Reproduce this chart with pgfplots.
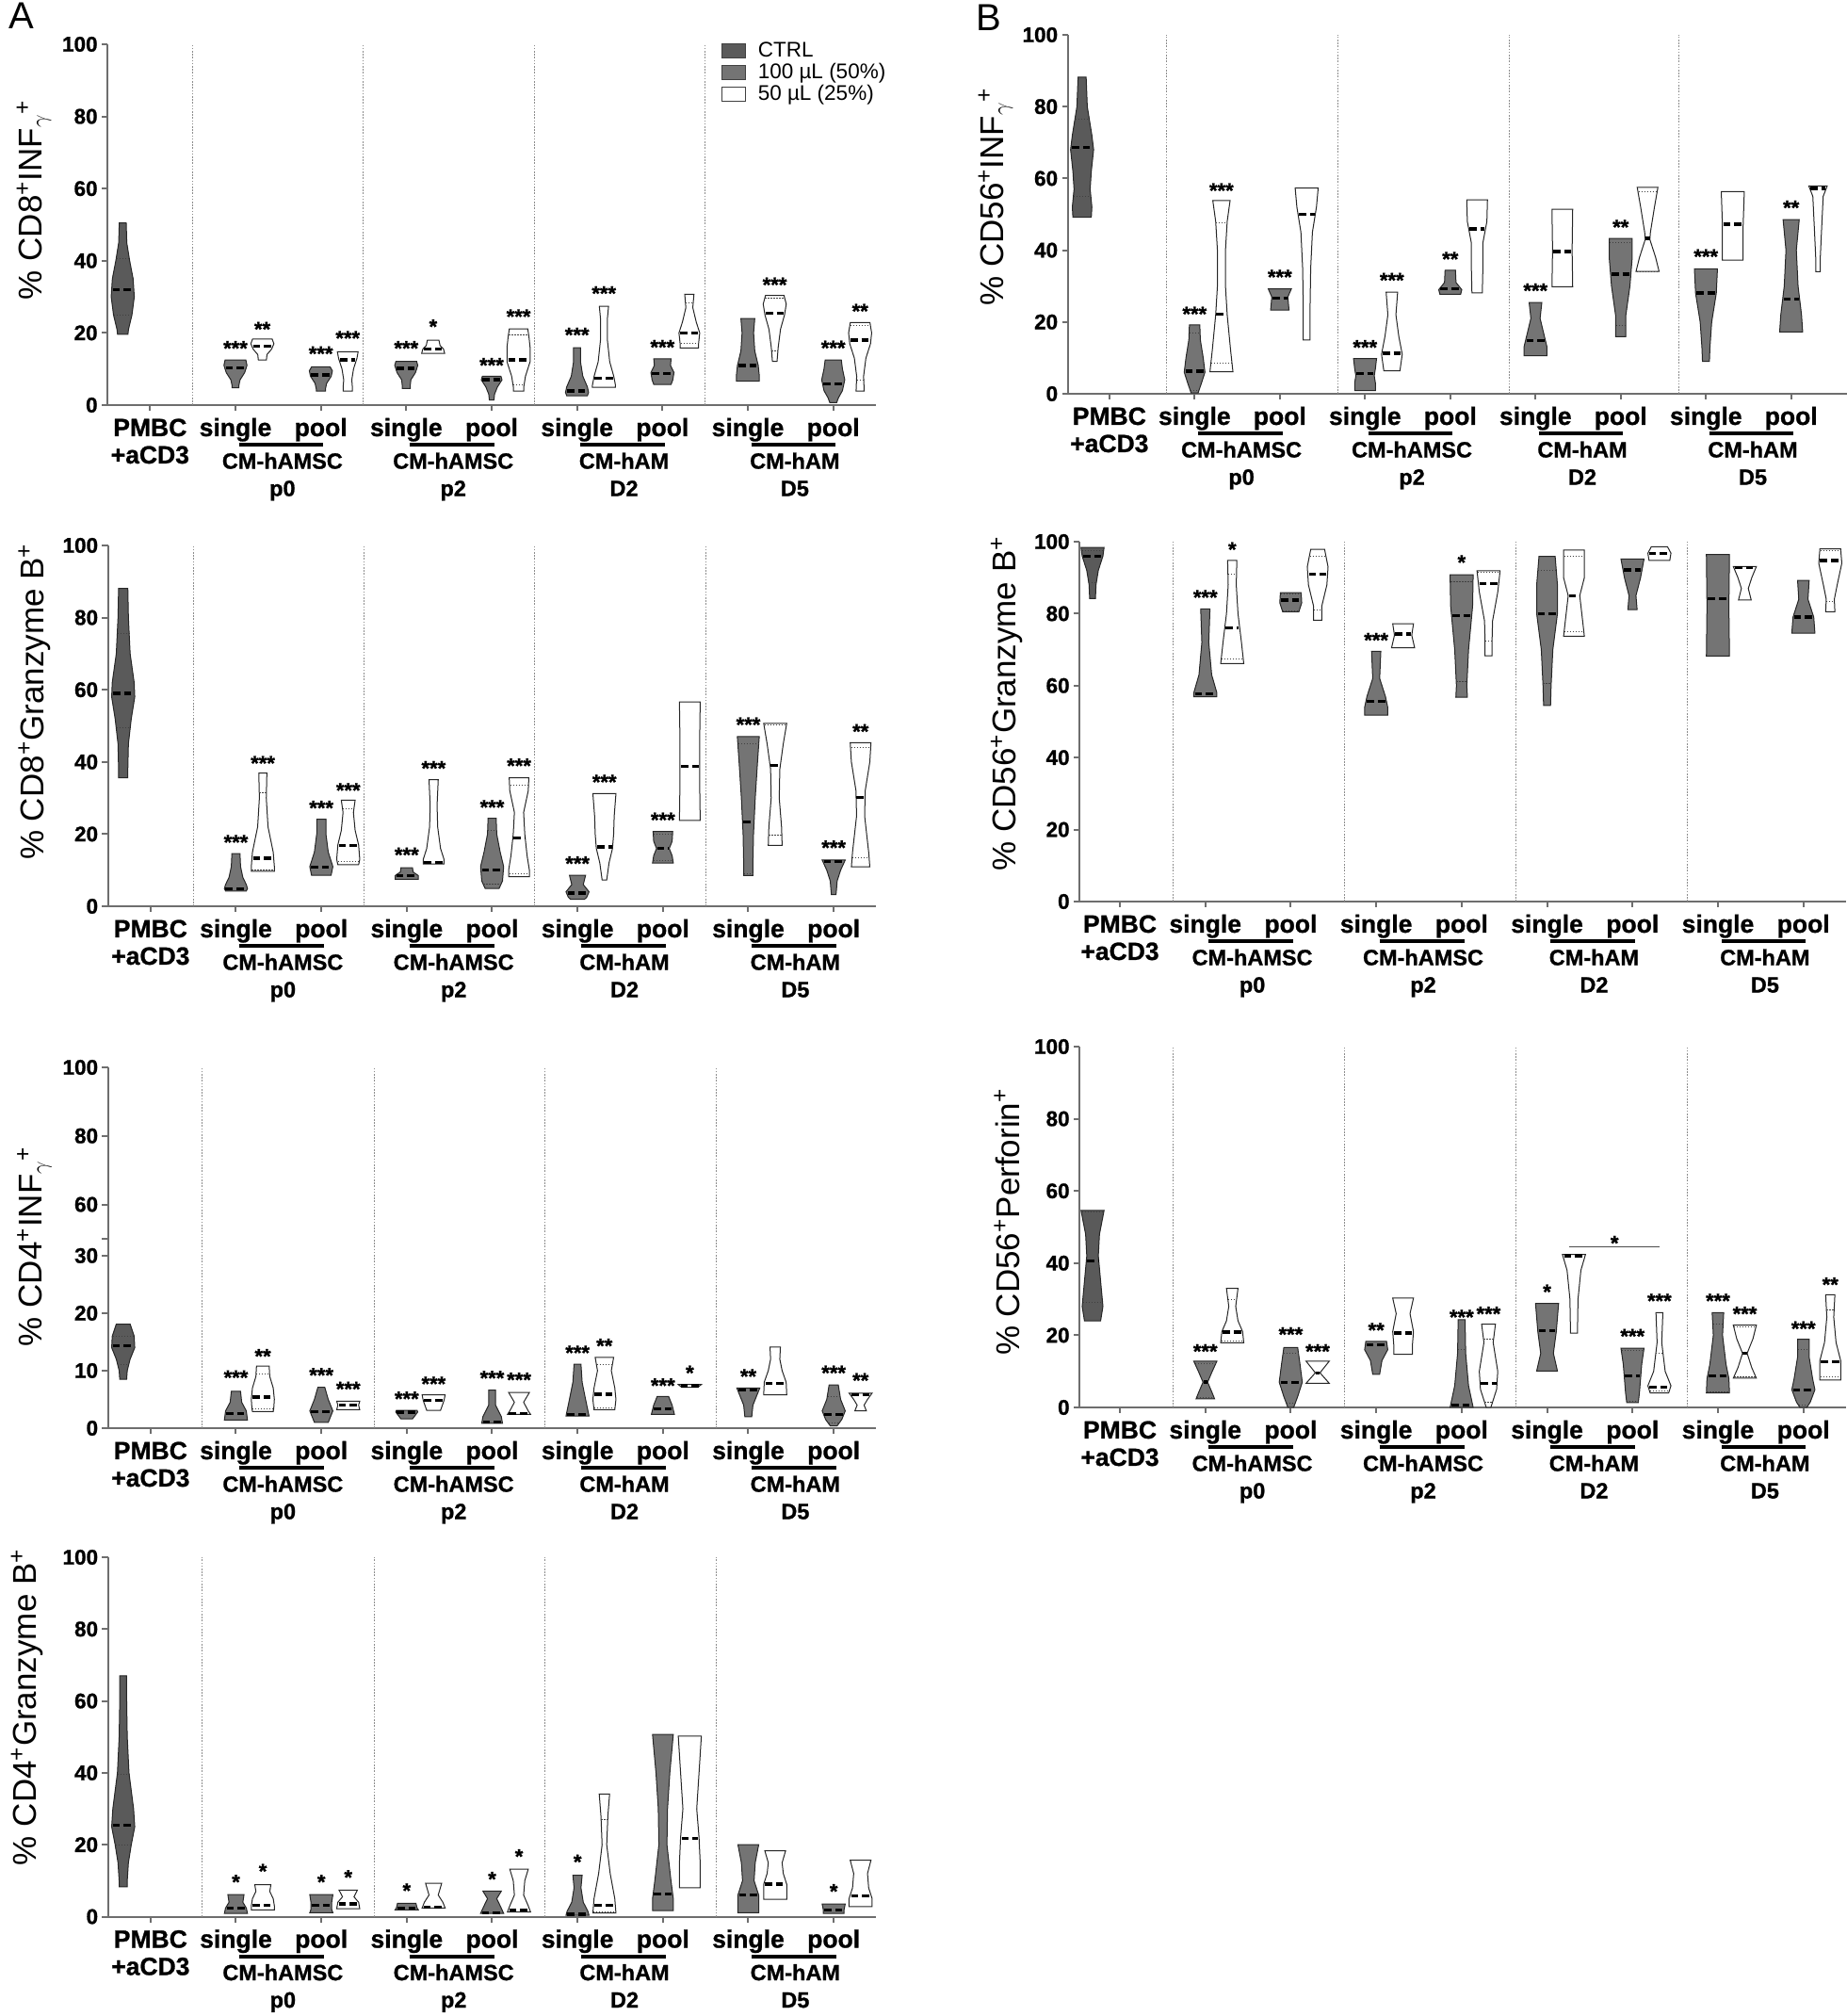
\documentclass[border=0pt]{standalone}
\usepackage{pgfplots}
\pgfplotsset{compat=1.18}
\usepackage{fontspec}
\setmainfont{Liberation Sans}
\newfontfamily\hb[FakeBold=1.0]{Liberation Sans Bold}
\definecolor{ctrl}{HTML}{5A5A5A}
\definecolor{hund}{HTML}{747474}
\definecolor{axgray}{HTML}{6E6E6E}
\newcommand\tickfont{\fontsize{11.25}{12}\selectfont\hb}
\newcommand\xlabfont{\fontsize{13.25}{14}\selectfont\hb}
\newcommand\grpfont{\fontsize{11.75}{13}\selectfont\hb}
\newcommand\ylabfont{\fontsize{17.5}{20}\selectfont}
\newcommand\starfont{\fontsize{11}{12}\selectfont\hb}
\newcommand\legfont{\fontsize{11.25}{12}\selectfont}
\newcommand\gam{\textsubscript{$\gamma$}}
\newcommand\vmax{0.135}
\tikzset{
  vstyle/.style={draw=black!85, line width=0.5pt},
  medstyle/.style={black, line width=1.7pt, dash pattern=on 3.8pt off 2pt},
  qstyle/.style={black!75, line width=0.5pt, dash pattern=on 0.6pt off 0.9pt},
  sepstyle/.style={draw=black!45, line width=0.5pt, dash pattern=on 0.8pt off 0.8pt},
  starnode/.style={font=\starfont, inner sep=0pt, anchor=center, yshift=-2.4pt},
  xl/.style={font=\xlabfont, anchor=base, inner sep=0pt},
  gl/.style={font=\grpfont, anchor=base, inner sep=0pt},
  grpbar/.style={line width=2pt, black},
}
% width of a violin (fraction) at height #2, list #1 given top to bottom
\newcommand\vwidth[2]{%
  \gdef\vwres{0.8}\gdef\vpy{1000}\gdef\vpw{0}\gdef\vfound{0}%
  \foreach \yy/\ww in {#1}{%
    \pgfmathparse{(\vfound<0.5)&&(\vpy<999)&&(\vpy>=#2)&&(\yy<=#2)?1:0}%
    \ifdim\pgfmathresult pt>0.5pt
      \pgfmathsetmacro\tmpw{\vpw+(\ww-\vpw)*(#2-\vpy)/(\yy-\vpy)}%
      \xdef\vwres{\tmpw}\gdef\vfound{1}%
    \fi
    \xdef\vpy{\yy}\xdef\vpw{\ww}%
  }%
}
% violin: #1 x, #2 fill, #3 median, #4 list y/w from top to bottom
\newcommand\vio[4]{%
  \gdef\vR{}\gdef\vL{}%
  \foreach \yy/\ww in {#4}{%
    \pgfmathsetmacro\xr{#1+\ww*\vmax}%
    \pgfmathsetmacro\xl{#1-\ww*\vmax}%
    \xdef\vR{\vR(\xr,\yy)}%
    \xdef\vL{(\xl,\yy)\vL}%
  }%
  \vwidth{#4}{#3}%
  \pgfmathsetmacro\mxl{#1-0.9*\vwres*\vmax}%
  \pgfmathsetmacro\mxr{#1+0.9*\vwres*\vmax}%
  \edef\tmp{\noexpand\addplot[vstyle,fill=#2] coordinates {\vR\vL} -- cycle;%
    \noexpand\addplot[medstyle] coordinates {(\mxl,#3) (\mxr,#3)};}%
  \tmp
}
% quartile dotted lines: #1 x, #2 list, #3 q3, #4 q1
\newcommand\vq[4]{%
  \vwidth{#2}{#3}%
  \pgfmathsetmacro\qa{#1-0.95*\vwres*\vmax}\pgfmathsetmacro\qb{#1+0.95*\vwres*\vmax}%
  \edef\tmp{\noexpand\addplot[qstyle] coordinates {(\qa,#3) (\qb,#3)};}\tmp
  \vwidth{#2}{#4}%
  \pgfmathsetmacro\qa{#1-0.95*\vwres*\vmax}\pgfmathsetmacro\qb{#1+0.95*\vwres*\vmax}%
  \edef\tmp{\noexpand\addplot[qstyle] coordinates {(\qa,#4) (\qb,#4)};}\tmp
}
\newcommand\st[3]{\node[starnode] at (axis cs:#1,#2) {#3};}
\newcommand\seps[5]{%
  \addplot[sepstyle] coordinates {(#1,0) (#1,#5)};
  \addplot[sepstyle] coordinates {(#2,0) (#2,#5)};
  \addplot[sepstyle] coordinates {(#3,0) (#3,#5)};
  \addplot[sepstyle] coordinates {(#4,0) (#4,#5)};
}
\newcommand\xlabels{%
  \node[xl] at ([yshift=-16.5pt]axis cs:0,0) {PMBC};
  \node[xl] at ([yshift=-31pt]axis cs:0,0) {+aCD3};
  \node[xl] at ([yshift=-16.5pt]axis cs:1,0) {single};
  \node[xl] at ([yshift=-16.5pt]axis cs:2,0) {pool};
  \node[xl] at ([yshift=-16.5pt]axis cs:3,0) {single};
  \node[xl] at ([yshift=-16.5pt]axis cs:4,0) {pool};
  \node[xl] at ([yshift=-16.5pt]axis cs:5,0) {single};
  \node[xl] at ([yshift=-16.5pt]axis cs:6,0) {pool};
  \node[xl] at ([yshift=-16.5pt]axis cs:7,0) {single};
  \node[xl] at ([yshift=-16.5pt]axis cs:8,0) {pool};
  \draw[grpbar] ([yshift=-21pt]axis cs:1.04,0) -- ([yshift=-21pt]axis cs:2.03,0);
  \draw[grpbar] ([yshift=-21pt]axis cs:3.04,0) -- ([yshift=-21pt]axis cs:4.03,0);
  \draw[grpbar] ([yshift=-21pt]axis cs:5.04,0) -- ([yshift=-21pt]axis cs:6.03,0);
  \draw[grpbar] ([yshift=-21pt]axis cs:7.04,0) -- ([yshift=-21pt]axis cs:8.03,0);
  \node[gl] at ([yshift=-33.8pt]axis cs:1.55,0) {CM-hAMSC};
  \node[gl] at ([yshift=-48.3pt]axis cs:1.55,0) {p0};
  \node[gl] at ([yshift=-33.8pt]axis cs:3.55,0) {CM-hAMSC};
  \node[gl] at ([yshift=-48.3pt]axis cs:3.55,0) {p2};
  \node[gl] at ([yshift=-33.8pt]axis cs:5.55,0) {CM-hAM};
  \node[gl] at ([yshift=-48.3pt]axis cs:5.55,0) {D2};
  \node[gl] at ([yshift=-33.8pt]axis cs:7.55,0) {CM-hAM};
  \node[gl] at ([yshift=-48.3pt]axis cs:7.55,0) {D5};
}
\pgfplotsset{
  vplot/.style={scale only axis, enlargelimits=false, clip=false,
    anchor=south west,
    axis x line=bottom, axis y line=left,
    axis line style={-, draw=axgray, line width=1pt},
    xtick={0,1,2,3,4,5,6,7,8}, xticklabels={},
    tick align=outside, major tick length=3pt,
    tick style={draw=axgray, line width=1pt},
    ymin=0, ymax=100, ytick={0,20,40,60,80,100},
    yticklabel style={font=\tickfont, inner sep=0pt, xshift=-2pt},
    /pgf/number format/assume math mode=true,
    ylabel style={font=\ylabfont, anchor=center},
  },
}
\begin{document}
\begin{tikzpicture}
\useasboundingbox (0,0) rectangle (980pt,1070pt);
\node[anchor=north west, inner sep=0pt, font=\fontsize{20}{24}\selectfont] at (4.5pt,1068.5pt) {A};
\node[anchor=north west, inner sep=0pt, font=\fontsize{20}{24}\selectfont] at (518pt,1067.5pt) {B};

% ---------------- A1 ----------------
\begin{axis}[vplot, at={(57pt,855pt)}, width=408pt, height=191.5pt,
  xmin=-0.5, xmax=8.5,
  ylabel={\% CD8\textsuperscript{+}INF\gam\textsuperscript{+}},
  ylabel style={at={(axis description cs:-0.0956,0.569)}},
  legend style={draw=none, fill=none, at={(axis description cs:0.798,1.01)}, anchor=north west,
    inner sep=0pt, row sep=0.6pt, font=\legfont, cells={anchor=west}, nodes={inner sep=0.6pt},
    /tikz/every odd column/.append style={column sep=6pt}},
  legend image code/.code={\draw[#1,draw=black!75,line width=0.5pt] (0pt,-3.8pt) rectangle (12.5pt,3.8pt);},
]
\addlegendimage{fill=ctrl}\addlegendentry{CTRL}
\addlegendimage{fill=hund}\addlegendentry{100 µL (50\%)}
\addlegendimage{fill=white}\addlegendentry{50 µL (25\%)}
\seps{0.5}{2.5}{4.5}{6.5}{100}
\vio{-0.32}{ctrl}{32}{50.5/0.3, 45/0.35, 40/0.6, 35/0.9, 30/1.0, 25/0.8, 21/0.5, 19.6/0.45}
\vq{-0.32}{50.5/0.3, 45/0.35, 40/0.6, 35/0.9, 30/1.0, 25/0.8, 21/0.5, 19.6/0.45}{40.5}{25}
\vio{1}{hund}{10.3}{12.5/0.9, 11/1.0, 9/0.8, 7/0.4, 5.5/0.3, 4.8/0.3}
\vio{1.315}{white}{16.3}{18.3/0.85, 17/1.0, 15.5/0.8, 14/0.4, 12.5/0.35}
\vio{2}{hund}{8.4}{10.6/0.8, 9.5/1.0, 8/0.9, 6/0.5, 4.5/0.4, 3.9/0.4}
\vio{2.315}{white}{12.5}{14.8/0.9, 13/0.8, 10/0.5, 7/0.35, 5/0.4, 3.9/0.4}
\vio{3}{hund}{10.2}{12.1/0.9, 11/1.0, 9/0.8, 7/0.4, 5.5/0.35, 4.6/0.35}
\vio{3.315}{white}{15.6}{18/0.5, 16.5/0.6, 15.5/0.9, 14.3/1.0}
\vio{4}{hund}{7.0}{8/0.8, 7/0.9, 5/0.5, 3/0.25, 1.4/0.2}
\vio{4.315}{white}{12.5}{21.1/0.8, 19/0.9, 16/1.0, 12/1.0, 8/0.6, 5/0.45, 3.9/0.45}
\vq{4.315}{21.1/0.8, 19/0.9, 16/1.0, 12/1.0, 8/0.6, 5/0.45, 3.9/0.45}{19.5}{5.5}
\vio{5}{hund}{3.9}{15.9/0.3, 12/0.3, 8/0.5, 5/0.9, 3.5/1.0, 2.6/0.9}
\vio{5.315}{white}{7.4}{27.4/0.4, 24/0.3, 18/0.3, 12/0.5, 8/0.85, 5.5/1.0, 4.9/1.0}
\vio{6}{hund}{8.8}{12.8/0.75, 11/0.7, 9/1.0, 7/0.9, 5.7/0.75}
\vio{6.315}{white}{19.9}{30.7/0.4, 27/0.3, 23/0.6, 20/0.9, 17/0.8, 15.8/0.8}
\vq{6.315}{30.7/0.4, 27/0.3, 23/0.6, 20/0.9, 17/0.8, 15.8/0.8}{28.4}{17}
\vio{7}{hund}{11}{24/0.6, 20/0.5, 15/0.6, 11/0.9, 8/1.0, 6.6/1.0}
\vio{7.315}{white}{25.5}{30.4/0.8, 28/1.0, 25/0.85, 21/0.5, 16/0.3, 12.1/0.2}
\vq{7.315}{30.4/0.8, 28/1.0, 25/0.85, 21/0.5, 16/0.3, 12.1/0.2}{29.5}{15}
\vio{8}{hund}{5.9}{12.5/0.7, 10/0.8, 7/1.0, 4/0.8, 2/0.45, 0.7/0.3}
\vio{8.315}{white}{18}{22.9/0.85, 20/1.0, 17/0.9, 13/0.5, 8/0.3, 3.9/0.35}
\vq{8.315}{22.9/0.85, 20/1.0, 17/0.9, 13/0.5, 8/0.3, 3.9/0.35}{22}{7}
\st{1}{17}{***}\st{1.315}{22.3}{**}\st{2}{15.5}{***}\st{2.315}{19.8}{***}
\st{3}{17}{***}\st{3.315}{23}{*}\st{4}{12.3}{***}\st{4.315}{25.8}{***}
\st{5}{20.7}{***}\st{5.315}{32.2}{***}\st{6}{17.3}{***}\st{7.315}{34.6}{***}
\st{8}{17.1}{***}\st{8.315}{27.3}{**}
\xlabels
\end{axis}

% ---------------- A2 ----------------
\begin{axis}[vplot, at={(57.25pt,589pt)}, width=408pt, height=191.5pt,
  xmin=-0.5, xmax=8.5,
  ylabel={\% CD8\textsuperscript{+}Granzyme B\textsuperscript{+}},
  ylabel style={at={(axis description cs:-0.0956,0.567)}},
]
\seps{0.5}{2.5}{4.5}{6.5}{100}
\vio{-0.32}{ctrl}{59}{88.1/0.4, 80/0.45, 70/0.6, 62/0.95, 58/1.0, 52/0.7, 45/0.45, 38/0.4, 35.6/0.4}
\vq{-0.32}{88.1/0.4, 80/0.45, 70/0.6, 62/0.95, 58/1.0, 52/0.7, 45/0.45, 38/0.4, 35.6/0.4}{75.5}{49.5}
\vio{1}{hund}{4.9}{14.6/0.35, 11/0.4, 8/0.6, 6/0.9, 4.9/1.0, 4.2/0.9}
\vio{1.315}{white}{13.3}{36.9/0.35, 30/0.3, 22/0.45, 15/0.9, 11/1.0, 9.7/1.0}
\vq{1.315}{36.9/0.35, 30/0.3, 22/0.45, 15/0.9, 11/1.0, 9.7/1.0}{31.5}{10}
\vio{2}{hund}{10.9}{24.1/0.4, 20/0.4, 15/0.6, 11/1.0, 8.6/0.85}
\vio{2.315}{white}{16.8}{29.4/0.6, 26/0.45, 21/0.6, 17/0.9, 13/1.0, 11.5/0.9}
\vq{2.315}{29.4/0.6, 26/0.45, 21/0.6, 17/0.9, 13/1.0, 11.5/0.9}{27}{12.3}
\vio{3}{hund}{8.5}{10.7/0.5, 9.5/0.55, 8.5/1.0, 7.5/1.0}
\vio{3.315}{white}{12.2}{35.1/0.4, 28/0.3, 22/0.35, 16/0.6, 13/0.9, 11.7/0.9}
\vio{4}{hund}{10.1}{24.4/0.35, 20/0.4, 15/0.7, 11/1.0, 7/0.9, 4.9/0.6}
\vq{4}{24.4/0.35, 20/0.4, 15/0.7, 11/1.0, 7/0.9, 4.9/0.6}{21}{6.2}
\vio{4.315}{white}{19}{35.6/0.85, 32/0.8, 26/0.4, 20/0.5, 14/0.7, 10/0.9, 8.2/0.9}
\vq{4.315}{35.6/0.85, 32/0.8, 26/0.4, 20/0.5, 14/0.7, 10/0.9, 8.2/0.9}{33.5}{9}
\vio{5}{hund}{3.6}{8.6/0.7, 6/0.5, 4/1.0, 2.5/0.8, 1.9/0.6}
\vio{5.315}{white}{16.4}{31.2/1.0, 25/0.85, 20/0.8, 16/0.7, 12/0.4, 7.3/0.2}
\vio{6}{hund}{16}{20.7/0.85, 18/0.8, 16/0.55, 14/0.8, 12/0.9}
\vq{6}{20.7/0.85, 18/0.8, 16/0.55, 14/0.8, 12/0.9}{20}{12.6}
\vio{6.315}{white}{38.7}{56.6/0.9, 45/0.85, 35/0.85, 23.8/0.9}
\vio{7}{hund}{23.4}{47/0.95, 40/0.8, 30/0.6, 20/0.45, 12/0.4, 8.5/0.4}
\vq{7}{47/0.95, 40/0.8, 30/0.6, 20/0.45, 12/0.4, 8.5/0.4}{45}{9}
\vio{7.315}{white}{39}{50.7/1.0, 45/0.7, 38/0.4, 30/0.35, 22/0.55, 16.9/0.6}
\vq{7.315}{50.7/1.0, 45/0.7, 38/0.4, 30/0.35, 22/0.55, 16.9/0.6}{50.3}{19.7}
\vio{8}{hund}{12.4}{12.8/1.0, 10/0.6, 7/0.3, 5/0.25, 3.2/0.2}
\vio{8.315}{white}{30.2}{45.3/0.9, 40/0.8, 32/0.4, 25/0.35, 15/0.7, 10.9/0.8}
\vq{8.315}{45.3/0.9, 40/0.8, 32/0.4, 25/0.35, 15/0.7, 10.9/0.8}{44}{13.5}
\st{1}{19}{***}\st{1.315}{40.9}{***}\st{2}{28.5}{***}\st{2.315}{33.4}{***}
\st{3}{15.5}{***}\st{3.315}{39.5}{***}\st{4}{28.7}{***}\st{4.315}{40.2}{***}
\st{5}{13.1}{***}\st{5.315}{35.7}{***}\st{6}{25.2}{***}\st{7}{51.6}{***}
\st{8}{17.5}{***}\st{8.315}{49.7}{**}
\xlabels
\end{axis}

% ---------------- A3 (broken axis: 0-30, then 50-100) ----------------
\begin{axis}[vplot, at={(57.25pt,312pt)}, width=408pt, height=191.5pt,
  xmin=-0.5, xmax=8.5, ymax=62.75,
  ytick={0,10,20,30,32.95,38.91,50.83,62.75},
  yticklabels={0,10,20,30,,60,80,100},
  ylabel={\% CD4\textsuperscript{+}INF\gam\textsuperscript{+}},
  ylabel style={at={(axis description cs:-0.0956,0.504)}},
]
\seps{0.6}{2.62}{4.62}{6.62}{62.75}
\vio{-0.32}{ctrl}{14.3}{18.1/0.6, 16/0.95, 14/1.0, 12/0.6, 10/0.35, 8.5/0.3}
\vq{-0.32}{18.1/0.6, 16/0.95, 14/1.0, 12/0.6, 10/0.35, 8.5/0.3}{16}{11}
\vio{1}{hund}{2.5}{6.4/0.4, 4.5/0.5, 3/0.9, 1.4/1.0}
\vio{1.315}{white}{5.4}{10.8/0.55, 9/0.6, 7/0.9, 5/1.0, 3.5/0.95, 2.9/0.9}
\vq{1.315}{10.8/0.55, 9/0.6, 7/0.9, 5/1.0, 3.5/0.95, 2.9/0.9}{9.5}{3.4}
\vio{2}{hund}{2.9}{7.1/0.3, 5/0.6, 3/1.0, 1.0/0.6}
\vio{2.315}{white}{4.0}{4.7/1.0, 4/0.9, 3.2/1.0}
\vio{3}{hund}{2.8}{3.1/0.9, 2.8/0.95, 1.6/0.5}
\vio{3.315}{white}{4.8}{5.8/1.0, 4.8/0.9, 3.1/0.6}
\vio{4}{hund}{1.1}{6.6/0.3, 4/0.3, 2/0.8, 0.85/0.9}
\vio{4.315}{white}{2.5}{6.2/0.9, 4.5/0.4, 3/0.8, 2.4/1.0}
\vio{5}{hund}{2.4}{11.1/0.3, 8/0.4, 5/0.7, 2.1/1.0}
\vio{5.315}{white}{5.9}{12.3/0.8, 10/0.6, 7/0.9, 5/1.0, 3.2/0.9}
\vq{5.315}{12.3/0.8, 10/0.6, 7/0.9, 5/1.0, 3.2/0.9}{11}{3.6}
\vio{6}{hund}{3.4}{5.5/0.5, 4/0.8, 2.4/1.0}
\vio{6.315}{white}{7.4}{7.6/1.0, 7.1/0.7}
\vio{7}{hund}{6.6}{7/1.0, 6/0.8, 4/0.4, 2/0.3}
\vio{7.315}{white}{7.8}{14.1/0.45, 12/0.4, 10/0.6, 8/0.95, 5.8/1.0}
\vio{8}{hund}{2.4}{7.5/0.4, 5/0.6, 3/1.0, 1.5/0.7, 0.4/0.3}
\vq{8}{7.5/0.4, 5/0.6, 3/1.0, 1.5/0.7, 0.4/0.3}{5.5}{0.9}
\vio{8.315}{white}{5.8}{6.1/1.0, 5/0.6, 4/0.3, 3/0.5}
\st{1}{9.6}{***}\st{1.315}{13.3}{**}\st{2}{10.0}{***}\st{2.315}{7.6}{***}
\st{3}{5.9}{***}\st{3.315}{8.5}{***}\st{4}{9.5}{***}\st{4.315}{9.2}{***}
\st{5}{13.9}{***}\st{5.315}{15.1}{**}\st{6}{8.2}{***}\st{6.315}{10.4}{*}
\st{7}{9.8}{**}\st{8}{10.4}{***}\st{8.315}{9.1}{**}
\xlabels
\end{axis}

% ---------------- A4 ----------------
\begin{axis}[vplot, at={(57.25pt,52.75pt)}, width=408pt, height=190.75pt,
  xmin=-0.5, xmax=8.5,
  ylabel={\% CD4\textsuperscript{+}Granzyme B\textsuperscript{+}},
  ylabel style={at={(axis description cs:-0.105,0.583)}},
]
\seps{0.6}{2.62}{4.62}{6.62}{100}
\vio{-0.32}{ctrl}{25.4}{67/0.3, 60/0.3, 50/0.35, 40/0.5, 30/0.9, 25/1.0, 20/0.7, 15/0.45, 10/0.35, 8.3/0.35}
\vq{-0.32}{67/0.3, 60/0.3, 50/0.35, 40/0.5, 30/0.9, 25/1.0, 20/0.7, 15/0.45, 10/0.35, 8.3/0.35}{39.5}{20}
\vio{1}{hund}{2.4}{6.1/0.7, 4/0.6, 2.4/0.9, 0.9/1.0}
\vio{1.315}{white}{3.2}{8.9/0.7, 7/0.6, 5/0.9, 3/1.0, 1.9/1.0}
\vio{2}{hund}{3.2}{6.1/1.0, 4/0.9, 2/0.9, 1.1/1.0}
\vio{2.315}{white}{3.5}{7.4/0.8, 5.5/0.5, 4/0.9, 2.2/1.0}
\vio{3}{hund}{2.4}{3.7/0.8, 2.4/0.9, 1.9/1.0}
\vio{3.315}{white}{2.6}{9.3/0.7, 6/0.4, 4/0.8, 2.4/1.0}
\vio{4}{hund}{1.1}{7.1/0.8, 5/0.4, 3/0.7, 0.9/1.0}
\vio{4.315}{white}{1.9}{13.2/0.8, 10/0.5, 6/0.4, 3/0.8, 1.3/1.0}
\vio{5}{hund}{0.7}{11.5/0.4, 8/0.3, 4/0.5, 1.5/0.9, 0.35/1.0}
\vio{5.315}{white}{3.2}{34.1/0.45, 28/0.3, 20/0.2, 12/0.5, 5/0.9, 1.0/1.0}
\vq{5.315}{34.1/0.45, 28/0.3, 20/0.2, 12/0.5, 5/0.9, 1.0/1.0}{27}{1.3}
\vio{6}{hund}{6.3}{50.7/0.9, 40/0.6, 30/0.4, 20/0.35, 10/0.7, 5/0.9, 1.7/0.9}
\vio{6.315}{white}{21.7}{50.2/1.0, 40/0.8, 30/0.6, 22/0.8, 15/0.9, 8/0.9}
\vio{7}{hund}{6.1}{20/0.9, 15/0.6, 10/0.5, 6/0.9, 1.1/0.9}
\vio{7.315}{white}{9.0}{18.3/0.9, 15/0.6, 12/0.7, 9/1.0, 4.8/1.0}
\vio{8}{hund}{1.9}{3.5/1.0, 1.9/0.9, 0.9/0.9}
\vio{8.315}{white}{5.8}{15.7/0.9, 12/0.6, 8/0.7, 5/1.0, 2.8/1.0}
\st{1}{10.9}{*}\st{1.315}{13.9}{*}\st{2}{10.9}{*}\st{2.315}{12.2}{*}
\st{3}{8.5}{*}\st{4}{11.7}{*}\st{4.315}{18}{*}\st{5}{16.5}{*}\st{8}{8.3}{*}
\xlabels
\end{axis}

% ---------------- B1 ----------------
\begin{axis}[vplot, at={(566.75pt,861pt)}, width=413.5pt, height=190.5pt,
  xmin=-0.49, xmax=8.65,
  ylabel={\% CD56\textsuperscript{+}INF\gam\textsuperscript{+}},
  ylabel style={at={(axis description cs:-0.0925,0.549)}},
]
\seps{0.67}{2.68}{4.69}{6.68}{100}
\vio{-0.32}{ctrl}{68.6}{88.2/0.35, 80/0.45, 72/0.85, 68/1.0, 62/0.8, 57/0.7, 52/0.85, 49.2/0.8}
\vq{-0.32}{88.2/0.35, 80/0.45, 72/0.85, 68/1.0, 62/0.8, 57/0.7, 52/0.85, 49.2/0.8}{76.5}{55}
\vio{1}{hund}{6.3}{19.2/0.45, 15/0.5, 10/0.75, 6/0.9, 3/0.6, 0.2/0.3}
\vq{1}{19.2/0.45, 15/0.5, 10/0.75, 6/0.9, 3/0.6, 0.2/0.3}{17}{0.8}
\vio{1.315}{white}{22.2}{53.8/0.75, 48/0.5, 40/0.35, 30/0.35, 22/0.5, 12/0.8, 6.1/1.0}
\vq{1.315}{53.8/0.75, 48/0.5, 40/0.35, 30/0.35, 22/0.5, 12/0.8, 6.1/1.0}{47.5}{8.5}
\vio{2}{hund}{26.7}{29.2/1.0, 27/0.7, 25/0.75, 23.3/0.8}
\vio{2.315}{white}{50}{57.3/1.0, 52/0.85, 45/0.5, 35/0.35, 25/0.3, 15/0.3}
\vio{3}{hund}{5.7}{9.8/1.0, 7/0.9, 5/0.8, 3/0.9, 0.9/0.9}
\vio{3.315}{white}{11.3}{28.3/0.5, 22/0.35, 16/0.6, 11/0.9, 6.4/0.7}
\vio{4}{hund}{29.2}{34.4/0.45, 31/0.5, 29/1.0, 27.7/0.9}
\vio{4.315}{white}{45.9}{54/0.9, 48/0.85, 42/0.5, 35/0.5, 28.1/0.45}
\vio{5}{hund}{14.8}{25.4/0.55, 21/0.4, 17/0.7, 13/1.0, 10.6/1.0}
\vio{5.315}{white}{39.6}{51.4/0.9, 40/0.85, 29.8/0.9}
\vio{6}{hund}{33.3}{43.3/1.0, 38/1.0, 30/0.8, 22/0.45, 15.9/0.45}
\vq{6}{43.3/1.0, 38/1.0, 30/0.8, 22/0.45, 15.9/0.45}{42}{19}
\vio{6.315}{white}{43.3}{57.5/0.9, 52/0.6, 45/0.25, 43/0.2, 38/0.7, 34.1/1.0}
\vq{6.315}{57.5/0.9, 52/0.6, 45/0.25, 43/0.2, 38/0.7, 34.1/1.0}{56.3}{34.1}
\vio{7}{hund}{28.1}{34.8/1.0, 28/0.9, 20/0.5, 13/0.35, 9/0.3}
\vio{7.315}{white}{47.2}{56.3/1.0, 47/0.9, 37.2/0.9}
\vio{8}{hund}{26.3}{48.5/0.7, 40/0.45, 30/0.6, 22/0.9, 17.2/1.0}
\vio{8.315}{white}{57.2}{57.9/0.8, 55/0.45, 45/0.3, 38/0.2, 34/0.2}
\st{1}{23.5}{***}\st{1.315}{57.9}{***}\st{2}{33.8}{***}\st{3}{14.2}{***}
\st{3.315}{32.9}{***}\st{4}{38.8}{**}\st{5}{30}{***}\st{6}{47.7}{**}
\st{7}{39.5}{***}\st{8}{53.1}{**}
\xlabels
\end{axis}

% ---------------- B2 ----------------
\begin{axis}[vplot, at={(573pt,591.5pt)}, width=407pt, height=191pt,
  xmin=-0.474, xmax=8.5,
  ylabel={\% CD56\textsuperscript{+}Granzyme B\textsuperscript{+}},
  ylabel style={at={(axis description cs:-0.0946,0.55)}},
]
\seps{0.62}{2.63}{4.64}{6.64}{100}
\vio{-0.32}{ctrl}{95.9}{98.4/1.0, 96/0.9, 92/0.5, 88/0.3, 84.2/0.25}
\vq{-0.32}{98.4/1.0, 96/0.9, 92/0.5, 88/0.3, 84.2/0.25}{97.5}{88.5}
\vio{1}{hund}{57.7}{81.3/0.4, 72/0.3, 63/0.55, 58/1.0, 56.9/1.0}
\vio{1.315}{white}{76.1}{94.8/0.4, 88/0.35, 80/0.5, 72/0.8, 66.1/1.0}
\vq{1.315}{94.8/0.4, 88/0.35, 80/0.5, 72/0.8, 66.1/1.0}{91}{67.5}
\vio{2}{hund}{83.8}{85.8/0.9, 83/0.95, 80.5/0.7}
\vq{2}{85.8/0.9, 83/0.95, 80.5/0.7}{85.5}{80.8}
\vio{2.315}{white}{91}{97.9/0.6, 93/0.9, 88/0.8, 82/0.35, 78.2/0.35}
\vq{2.315}{97.9/0.6, 93/0.9, 88/0.8, 82/0.35, 78.2/0.35}{96}{81}
\vio{3}{hund}{55.7}{69.5/0.4, 62/0.3, 57/0.8, 54/1.0, 51.8/1.0}
\vio{3.315}{white}{74.3}{77.2/0.9, 74/0.75, 70.5/1.0}
\vio{4}{hund}{79.5}{90.8/1.0, 82/0.95, 70/0.6, 60/0.45, 56.8/0.5}
\vq{4}{90.8/1.0, 82/0.95, 70/0.6, 60/0.45, 56.8/0.5}{89}{61}
\vio{4.315}{white}{88.3}{91.9/1.0, 86/0.8, 78/0.35, 72/0.3, 68.3/0.3}
\vq{4.315}{91.9/1.0, 86/0.8, 78/0.35, 72/0.3, 68.3/0.3}{91.5}{72.5}
\vio{5}{hund}{80}{95.9/0.7, 88/0.9, 80/0.9, 70/0.5, 60/0.35, 54.5/0.3}
\vq{5}{95.9/0.7, 88/0.9, 80/0.9, 70/0.5, 60/0.35, 54.5/0.3}{92}{60.5}
\vio{5.315}{white}{85}{97.7/0.9, 90/0.9, 85/0.5, 78/0.75, 73.7/0.9}
\vq{5.315}{97.7/0.9, 90/0.9, 85/0.5, 78/0.75, 73.7/0.9}{96}{75}
\vio{6}{hund}{92.1}{95.2/1.0, 90/0.7, 85/0.3, 81.1/0.4}
\vio{6.315}{white}{96.8}{98.6/0.7, 96.8/1.0, 94.8/0.9}
\vio{7}{hund}{84.1}{96.4/1.0, 82/0.95, 68.2/1.0}
\vio{7.315}{white}{92.8}{93.1/1.0, 90/0.6, 87/0.3, 83.8/0.55}
\vio{8}{hund}{79.1}{89.2/0.5, 84/0.4, 79/0.9, 74.6/1.0}
\vio{8.315}{white}{94.8}{98/0.9, 94/1.0, 88/0.6, 84/0.35, 80.5/0.4}
\vq{8.315}{98/0.9, 94/1.0, 88/0.6, 84/0.35, 80.5/0.4}{97.5}{83.5}
\st{1}{85.8}{***}\st{1.315}{99.1}{*}\st{3}{73.9}{***}\st{4}{95.5}{*}
\xlabels
\end{axis}

% ---------------- B3 ----------------
\begin{axis}[vplot, at={(573pt,323pt)}, width=407pt, height=191.5pt,
  xmin=-0.474, xmax=8.5,
  ylabel={\% CD56\textsuperscript{+}Perforin\textsuperscript{+}},
  ylabel style={at={(axis description cs:-0.0946,0.514)}},
]
\seps{0.62}{2.63}{4.64}{6.64}{100}
\vio{-0.32}{ctrl}{40.6}{54.6/1.0, 48/0.6, 42/0.5, 35/0.7, 28/0.9, 24/0.7}
\vq{-0.32}{54.6/1.0, 48/0.6, 42/0.5, 35/0.7, 28/0.9, 24/0.7}{54.2}{29}
\vio{1}{hund}{7}{12.8/1.0, 10/0.6, 7/0.2, 4/0.6, 2.4/0.8}
\vq{1}{12.8/1.0, 10/0.6, 7/0.2, 4/0.6, 2.4/0.8}{12.2}{2.8}
\vio{1.315}{white}{20.9}{33/0.5, 28/0.3, 24/0.5, 21/0.9, 17.9/1.0}
\vq{1.315}{33/0.5, 28/0.3, 24/0.5, 21/0.9, 17.9/1.0}{30}{18.5}
\vio{2}{hund}{6.9}{16.6/0.6, 12/0.8, 7/1.0, 3/0.6, 0/0.25}
\vq{2}{16.6/0.6, 12/0.8, 7/1.0, 3/0.6, 0/0.25}{15}{1.2}
\vio{2.315}{white}{9.6}{12.8/1.0, 9.6/0.2, 6.7/1.0}
\vio{3}{hund}{17.4}{18.3/0.9, 16/1.0, 13/0.5, 9.2/0.3}
\vio{3.315}{white}{20.6}{30.3/0.9, 26/0.6, 21/0.9, 17/0.8, 14.7/0.8}
\vio{4}{hund}{0.6}{24.3/0.3, 15/0.35, 6/0.6, 0/1.0}
\vq{4}{24.3/0.3, 15/0.35, 6/0.6, 0/1.0}{16}{0.2}
\vio{4.315}{white}{6.7}{23.1/0.6, 18/0.4, 10/0.8, 5/0.7, 0/0.2}
\vq{4.315}{23.1/0.6, 18/0.4, 10/0.8, 5/0.7, 0/0.2}{19}{1.5}
\vio{5}{hund}{21.3}{28.8/1.0, 21/0.8, 15/0.55, 10.1/0.9}
\vio{5.315}{white}{42}{42.4/1.0, 38/0.6, 30/0.35, 20.6/0.3}
\vio{6}{hund}{8.7}{16.4/1.0, 12/0.8, 8/0.7, 4/0.6, 1.35/0.5}
\vq{6}{16.4/1.0, 12/0.8, 8/0.7, 4/0.6, 1.35/0.5}{15.8}{1.8}
\vio{6.315}{white}{5.6}{26.3/0.3, 18/0.2, 10/0.5, 6/1.0, 4/0.8}
\vq{6.315}{26.3/0.3, 18/0.2, 10/0.5, 6/1.0, 4/0.8}{15}{4.5}
\vio{7}{hund}{8.7}{26.3/0.5, 20/0.4, 12/0.7, 8/0.95, 4/1.0}
\vq{7}{26.3/0.5, 20/0.4, 12/0.7, 8/0.95, 4/1.0}{23}{4.3}
\vio{7.315}{white}{15}{22.8/1.0, 19/0.7, 15/0.2, 11/0.6, 8.1/1.0}
\vq{7.315}{22.8/1.0, 19/0.7, 15/0.2, 11/0.6, 8.1/1.0}{22.4}{8.4}
\vio{8}{hund}{4.9}{18.9/0.5, 14/0.5, 8/0.8, 4.9/1.0, 1.5/0.6, 0/0.3}
\vq{8}{18.9/0.5, 14/0.5, 8/0.8, 4.9/1.0, 1.5/0.6, 0/0.3}{16}{0.6}
\vio{8.315}{white}{12.6}{31.2/0.4, 25/0.3, 18/0.5, 13/0.9, 7.6/0.9}
\vq{8.315}{31.2/0.4, 25/0.3, 18/0.5, 13/0.9, 7.6/0.9}{27}{8.6}
\addplot[draw=black!70, line width=0.6pt] coordinates {(5.26,44.5) (6.32,44.5)};
\st{5.79}{46.8}{*}
\st{1}{16.8}{***}\st{2}{21.5}{***}\st{2.315}{16.8}{***}\st{3}{22.7}{**}
\st{4}{26.3}{***}\st{4.315}{27.2}{***}\st{5}{33.3}{*}\st{6}{21}{***}
\st{6.315}{30.8}{***}\st{7}{30.8}{***}\st{7.315}{27.2}{***}\st{8}{23.1}{***}
\st{8.315}{35.3}{**}
\xlabels
\end{axis}
\end{tikzpicture}
\end{document}
